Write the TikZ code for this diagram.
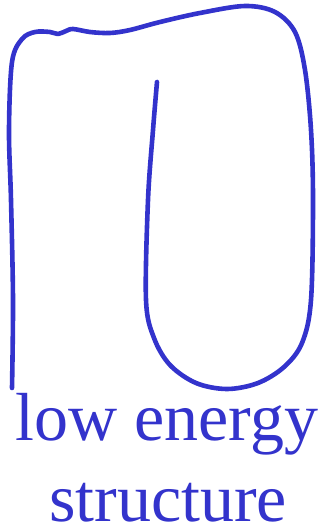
\documentclass[tikz,border=0pt]{standalone}
\usepackage{fontspec}
\setmainfont{Liberation Serif}
\definecolor{inkblue}{RGB}{51,51,204}
\tikzset{
  pen/.style={draw=inkblue, line width=4.6pt, line cap=round, line join=round},
  label/.style={text=inkblue, font=\fontsize{68}{80}\selectfont, inner sep=0pt, anchor=base}
}
\begin{document}
\begin{tikzpicture}[x=1pt,y=-1pt]
\useasboundingbox (0,0) rectangle (325,530);
\draw[pen] plot[smooth, tension=0.55] coordinates {
 (12,388) (13,300) (11,200) (9,130) (12,62) (22,39) (35,32) (50,32) (58,34) (66,31) (73,29) (90,32) (110,33) (130,30) (160,22) (200,13) (245,6) (275,12) (295,32) (305,70) (311,130) (313,200) (311,300) (302,343) (284,367) (258,383) (227,389) (196,383) (170,365) (154,338) (146,300) (148,200) (153,130) (157,82)};
\node[label] (l1) at (167,440) {low energy};
\node[label] (l2) at (168,521) {structure};
\end{tikzpicture}
\end{document}
